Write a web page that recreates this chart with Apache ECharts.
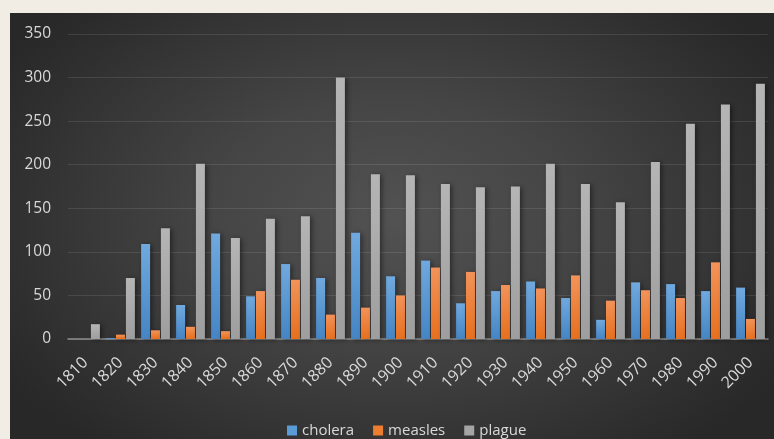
<!DOCTYPE html>
<html>
<head>
<meta charset="utf-8">
<script src="https://cdn.jsdelivr.net/npm/echarts@6/dist/echarts.min.js"></script>
<style>
  html, body { margin: 0; padding: 0; }
  body {
    width: 774px;
    height: 439px;
    overflow: hidden;
    background: #f1ede5;
    position: relative;
  }
  #chart {
    position: absolute;
    left: 10px;
    top: 13px;
    width: 764px;
    height: 426px;
    background: radial-gradient(ellipse 60% 70% at 50% 48%, #525252 0%, #454545 40%, #2f2f2f 85%, #282828 100%);
  }
</style>
</head>
<body>
<div id="chart"></div>
<script>
// decades on the x axis
const decades = ['1810', '1820', '1830', '1840', '1850', '1860', '1870', '1880', '1890', '1900',
  '1910', '1920', '1930', '1940', '1950', '1960', '1970', '1980', '1990', '2000'];

const cholera = [0, 1, 109, 39, 121, 49, 86, 70, 122, 72, 90, 41, 55, 66, 47, 22, 65, 63, 55, 59];
const measles = [0, 5, 10, 14, 9, 55, 68, 28, 36, 50, 82, 77, 62, 58, 73, 44, 56, 47, 88, 23];
const plague = [17, 70, 127, 201, 116, 138, 141, 300, 189, 188, 178, 174, 175, 201, 178, 157, 203, 247, 269, 293];

const labelColor = '#d9d9d9';
const fontFamily = '"Open Sans", "Noto Sans", sans-serif';

const barGradient = (top, bottom) => new echarts.graphic.LinearGradient(0, 0, 0, 1, [
  { offset: 0, color: top },
  { offset: 1, color: bottom },
]);

const makeSeries = (name, data, top, bottom) => ({
  name,
  type: 'bar',
  data,
  barWidth: 9,
  barGap: '10%',
  itemStyle: {
    color: barGradient(top, bottom),
    shadowColor: 'rgba(0, 0, 0, 0.45)',
    shadowBlur: 5,
    shadowOffsetX: 2,
    shadowOffsetY: 1,
  },
});

const chart = echarts.init(document.getElementById('chart'));

chart.setOption({
  animation: false,
  textStyle: { fontFamily },
  grid: {
    left: 58,
    right: 6,
    top: 21,
    bottom: 100,
  },
  legend: {
    top: 405,
    left: 272,
    icon: 'rect',
    itemWidth: 10,
    itemHeight: 10,
    itemGap: 19,
    textStyle: { color: labelColor, fontSize: 15, fontFamily },
    data: [
      { name: 'cholera', itemStyle: { color: '#5b9bd5' } },
      { name: 'measles', itemStyle: { color: '#ed7d31' } },
      { name: 'plague', itemStyle: { color: '#a5a5a5' } },
    ],
  },
  xAxis: {
    type: 'category',
    data: decades,
    axisLine: { lineStyle: { color: '#8f8f8f', width: 1.5 } },
    axisTick: { show: false },
    axisLabel: {
      color: labelColor,
      fontSize: 16,
      fontFamily,
      rotate: 45,
      margin: 21,
      interval: 0,
    },
  },
  yAxis: {
    type: 'value',
    min: 0,
    max: 350,
    interval: 50,
    axisLine: { show: false },
    axisTick: { show: false },
    axisLabel: { color: labelColor, fontSize: 15.5, fontFamily, margin: 17 },
    splitLine: { lineStyle: { color: 'rgba(255, 255, 255, 0.1)', width: 1 } },
  },
  series: [
    makeSeries('cholera', cholera, '#70a9de', '#4585c4'),
    makeSeries('measles', measles, '#f3935a', '#e6701e'),
    makeSeries('plague', plague, '#b5b5b5', '#9e9e9e'),
  ],
});
</script>
</body>
</html>
